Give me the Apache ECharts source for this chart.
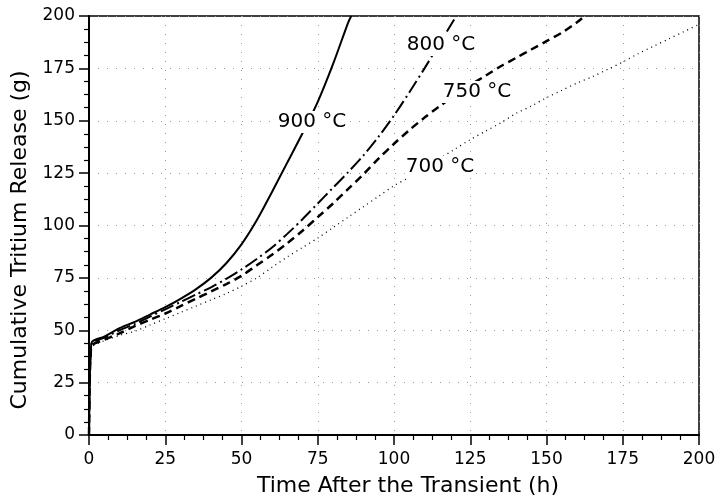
<!DOCTYPE html>
<html>
<head>
<meta charset="utf-8">
<script src="https://cdn.jsdelivr.net/npm/echarts@6/dist/echarts.min.js"></script>
<style>
  html, body { margin: 0; padding: 0; background: #ffffff; }
  #chart { width: 723px; height: 502px; }
</style>
</head>
<body>
<div id="chart"></div>
<script>
// values (h, g)
var t900 = [0, 0.3, 0.6, 1, 5, 10, 15, 20, 25, 30, 35, 40, 45, 50, 55, 60, 65, 70, 75, 80, 85, 86];
var g900 = [0, 30, 40, 44.5, 47, 51, 54, 57.5, 61, 65, 69.5, 75, 82, 91, 102.5, 116, 130, 144, 159, 177, 197, 200];

var t800 = [0, 0.3, 0.6, 1, 5, 10, 15, 20, 25, 30, 35, 40, 45, 50, 55, 60, 65, 70, 75, 80, 85, 90, 95, 100, 105, 110, 115, 120, 120.5];
var g800 = [0, 30, 40, 44, 46.5, 50, 53, 56.5, 60, 63.5, 67, 70.5, 74.5, 79, 84, 89.5, 96, 103, 110.5, 118, 125.5, 133.5, 142.5, 152.5, 163.5, 175, 187, 199, 200];

var t750 = [0, 0.3, 0.6, 1, 5, 10, 15, 20, 25, 30, 35, 40, 45, 50, 55, 60, 65, 70, 75, 80, 85, 90, 95, 100, 105, 110, 115, 120, 125, 130, 135, 140, 145, 150, 155, 160, 162.5];
var g750 = [0, 30, 40, 43, 45.5, 48.5, 52, 55, 58, 61.5, 65, 68.5, 72, 76, 81, 86, 91.5, 97.5, 104, 110.5, 117.5, 124.5, 132, 139, 145.5, 151.5, 157, 162, 167, 171.5, 176, 180, 184, 188, 192, 197, 200];

var t700 = [0, 0.3, 0.6, 1, 5, 10, 15, 20, 25, 30, 35, 40, 45, 50, 55, 60, 65, 70, 75, 80, 85, 90, 95, 100, 105, 110, 115, 120, 125, 130, 135, 140, 145, 150, 155, 160, 165, 170, 175, 180, 185, 190, 195, 200];
var g700 = [0, 30, 38, 42, 45, 47.5, 49.5, 52.5, 55.5, 58.5, 61.5, 64.5, 67.5, 71, 75, 80, 85, 89.5, 94, 99, 104, 109, 114, 119, 123, 128, 132, 136.5, 141, 145, 149, 153.5, 157, 161, 164.5, 168, 171, 174.5, 178, 182, 185.5, 189, 192.5, 196];

var curveLabels = ['900 °C', '800 °C', '750 °C', '700 °C'];

function pairs(xs, ys) {
  return xs.map(function (x, i) { return [x, ys[i]]; });
}

var chart = echarts.init(document.getElementById('chart'));
var font = 'DejaVu Sans';

function curveLabel(text, x, y) {
  return {
    type: 'text', x: x, y: y, z: 10,
    style: {
      text: text, font: '20px "DejaVu Sans"', fill: '#000',
      align: 'center', verticalAlign: 'middle',
      backgroundColor: '#fff', padding: [1, 1]
    }
  };
}

var option = {
  backgroundColor: '#ffffff',
  animation: false,
  grid: {
    left: 89, right: 24, top: 16, bottom: 63,
    show: true,
    borderColor: '#000',
    borderWidth: 1.5
  },
  xAxis: {
    type: 'value',
    min: 0, max: 200, interval: 25,
    name: 'Time After the Transient (h)',
    nameLocation: 'middle',
    nameGap: 40,
    nameTextStyle: { fontFamily: font, fontSize: 22, color: '#000', padding: [0, 0, 0, 28] },
    axisLine: { lineStyle: { color: '#000', width: 2 } },
    axisTick: { length: 10, lineStyle: { color: '#000', width: 1.5 } },
    minorTick: { show: true, splitNumber: 4, length: 5, lineStyle: { color: '#000', width: 1.2 } },
    axisLabel: { fontFamily: font, fontSize: 17, color: '#000', margin: 16 },
    splitLine: { show: true, lineStyle: { color: '#999', width: 1, type: [1, 8] } }
  },
  yAxis: {
    type: 'value',
    min: 0, max: 200, interval: 25,
    name: 'Cumulative Tritium Release (g)',
    nameLocation: 'middle',
    nameGap: 53,
    nameTextStyle: { fontFamily: font, fontSize: 22, color: '#000', padding: [0, 29, 0, 0] },
    axisLine: { lineStyle: { color: '#000', width: 2 } },
    axisTick: { length: 10, lineStyle: { color: '#000', width: 1.5 } },
    minorTick: { show: true, splitNumber: 4, length: 5, lineStyle: { color: '#000', width: 1.2 } },
    axisLabel: { fontFamily: font, fontSize: 17, color: '#000', margin: 14 },
    splitLine: { show: true, lineStyle: { color: '#999', width: 1, type: [1, 8] } }
  },
  series: [
    {
      name: curveLabels[0], type: 'line', symbol: 'none', smooth: 0.3,
      data: pairs(t900, g900),
      lineStyle: { color: '#000', width: 2 }
    },
    {
      name: curveLabels[1], type: 'line', symbol: 'none', smooth: 0.3,
      data: pairs(t800, g800),
      lineStyle: { color: '#000', width: 2, type: [14, 4, 2, 4] }
    },
    {
      name: curveLabels[2], type: 'line', symbol: 'none', smooth: 0.3,
      data: pairs(t750, g750),
      lineStyle: { color: '#000', width: 2.5, type: [8, 5] }
    },
    {
      name: curveLabels[3], type: 'line', symbol: 'none', smooth: 0.3,
      data: pairs(t700, g700),
      lineStyle: { color: '#000', width: 1.3, type: [1, 4] }
    }
  ],
  graphic: [
    curveLabel(curveLabels[0], 312, 122),
    curveLabel(curveLabels[1], 441, 45),
    curveLabel(curveLabels[2], 477, 92),
    curveLabel(curveLabels[3], 440, 167)
  ]
};

chart.setOption(option);
</script>
</body>
</html>
